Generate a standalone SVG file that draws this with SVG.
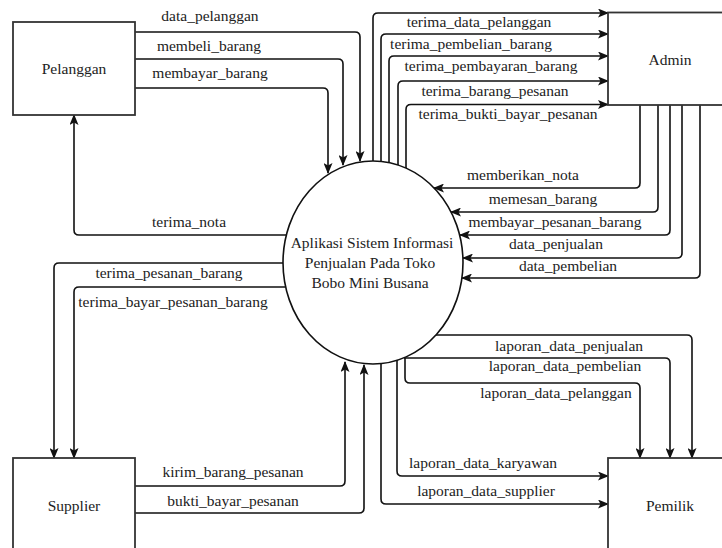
<svg xmlns="http://www.w3.org/2000/svg" width="722" height="548" viewBox="0 0 722 548">
<style>
.box{fill:#fff;stroke:#333;stroke-width:1.8}
.proc{fill:#fff;stroke:#111;stroke-width:1.6}
.c{fill:none;stroke:#111;stroke-width:1.6;marker-end:url(#arr)}
text{font-family:"Liberation Serif","Times New Roman",serif;font-size:15.5px;fill:#222;text-anchor:middle}
</style>
<defs>
<marker id="arr" markerUnits="userSpaceOnUse" markerWidth="11" markerHeight="9" viewBox="0 0 11 9" refX="10" refY="4.5" orient="auto">
<path d="M0,0 L11,4.5 L0,9 L2.5,4.5 z" fill="#111"/>
</marker>
</defs>
<rect width="722" height="548" fill="#fff"/>

<g id="connectors">
<g id="c-data_pelanggan"><path class="c" d="M135 32 H355 Q360 32 360 37 V161"/><text x="210" y="21">data_pelanggan</text></g>
<g id="c-membeli_barang"><path class="c" d="M135 59 H338 Q343 59 343 64 V165"/><text x="209" y="51">membeli_barang</text></g>
<g id="c-membayar_barang"><path class="c" d="M135 88 H323 Q328 88 328 93 V173"/><text x="210" y="78">membayar_barang</text></g>

<g id="c-terima_data_pelanggan"><path class="c" d="M373 161 V18 Q373 13 378 13 H608"/><text x="479" y="27">terima_data_pelanggan</text></g>
<g id="c-terima_pembelian_barang"><path class="c" d="M381 161 V39 Q381 34 386 34 H608"/><text x="471" y="49">terima_pembelian_barang</text></g>
<g id="c-terima_pembayaran_barang"><path class="c" d="M389 163 V61 Q389 56 394 56 H608"/><text x="491" y="71">terima_pembayaran_barang</text></g>
<g id="c-terima_barang_pesanan"><path class="c" d="M398 165 V86 Q398 81 403 81 H608"/><text x="495" y="96">terima_barang_pesanan</text></g>
<g id="c-terima_bukti_bayar_pesanan"><path class="c" d="M406 168 V109.5 Q406 104.5 411 104.5 H608"/><text x="508" y="119">terima_bukti_bayar_pesanan</text></g>

<g id="c-memberikan_nota"><path class="c" d="M640 105 V183 Q640 188 635 188 H434"/><text x="523" y="180">memberikan_nota</text></g>
<g id="c-memesan_barang"><path class="c" d="M658 105 V207 Q658 212 653 212 H451"/><text x="543" y="204">memesan_barang</text></g>
<g id="c-membayar_pesanan_barang"><path class="c" d="M670 105 V230 Q670 235 665 235 H460"/><text x="555" y="227">membayar_pesanan_barang</text></g>
<g id="c-data_penjualan"><path class="c" d="M682 105 V253 Q682 258 677 258 H463"/><text x="556" y="249">data_penjualan</text></g>
<g id="c-data_pembelian"><path class="c" d="M700 105 V273 Q700 278 695 278 H462"/><text x="568" y="271">data_pembelian</text></g>

<g id="c-terima_nota"><path class="c" d="M286 235 H79 Q74 235 74 230 V115"/><text x="189" y="227">terima_nota</text></g>
<g id="c-terima_pesanan_barang"><path class="c" d="M283 263 H59 Q54 263 54 268 V458"/><text x="169" y="278">terima_pesanan_barang</text></g>
<g id="c-terima_bayar_pesanan_barang"><path class="c" d="M285 287 H79 Q74 287 74 292 V458"/><text x="173" y="307">terima_bayar_pesanan_barang</text></g>

<g id="c-kirim_barang_pesanan"><path class="c" d="M135 486 H340 Q345 486 345 481 V362"/><text x="233" y="477">kirim_barang_pesanan</text></g>
<g id="c-bukti_bayar_pesanan"><path class="c" d="M135 513 H359 Q364 513 364 508 V365"/><text x="233" y="506">bukti_bayar_pesanan</text></g>

<g id="c-laporan_data_penjualan"><path class="c" d="M436 335 H687 Q692 335 692 340 V458"/><text x="569" y="351">laporan_data_penjualan</text></g>
<g id="c-laporan_data_pembelian"><path class="c" d="M404 358 H665 Q670 358 670 363 V458"/><text x="565" y="371">laporan_data_pembelian</text></g>
<g id="c-laporan_data_pelanggan"><path class="c" d="M405 358 V378 Q405 383 410 383 H635 Q640 383 640 388 V458"/><text x="556" y="398">laporan_data_pelanggan</text></g>
<g id="c-laporan_data_karyawan"><path class="c" d="M397 360 V471 Q397 476 402 476 H608"/><text x="483" y="468">laporan_data_karyawan</text></g>
<g id="c-laporan_data_supplier"><path class="c" d="M381 363 V499 Q381 504 386 504 H608"/><text x="486" y="496">laporan_data_supplier</text></g>
</g>

<g id="pelanggan"><rect class="box" x="13" y="22" width="122" height="93"/><text x="74" y="74">Pelanggan</text></g>
<g id="admin"><rect class="box" x="608" y="12.5" width="124" height="92.5"/><text x="670" y="65">Admin</text></g>
<g id="supplier"><rect class="box" x="13" y="458" width="122" height="93"/><text x="74" y="511">Supplier</text></g>
<g id="pemilik"><rect class="box" x="608" y="458" width="124" height="93"/><text x="670" y="511">Pemilik</text></g>
<g id="proses"><ellipse class="proc" cx="373" cy="262.5" rx="90" ry="101.5"/>
<text x="372" y="248">Aplikasi Sistem Informasi</text>
<text x="370" y="268">Penjualan Pada Toko</text>
<text x="370" y="288">Bobo Mini Busana</text></g>
</svg>
